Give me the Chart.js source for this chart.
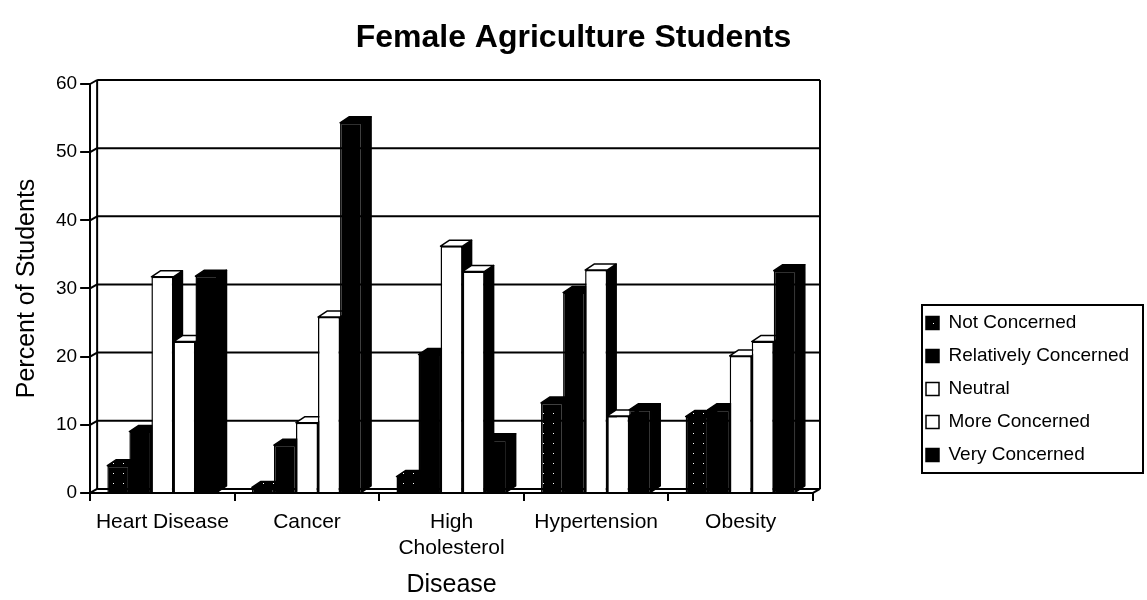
<!DOCTYPE html>
<html>
<head>
<meta charset="utf-8">
<title>Female Agriculture Students</title>
<script src="https://cdn.jsdelivr.net/npm/chart.js@4/dist/chart.umd.min.js"></script>
<style>
  html, body { margin: 0; padding: 0; background: #fff; }
  #wrap { width: 1147px; height: 600px; }
</style>
</head>
<body>
<div id="wrap"><canvas id="chart" width="1147" height="600"></canvas></div>
<script>
// Survey data: percent of students by level of concern for each disease
const categories = ['Heart Disease', 'Cancer', ['High', 'Cholesterol'], 'Hypertension', 'Obesity'];
const seriesNames = ['Not Concerned', 'Relatively Concerned', 'Neutral', 'More Concerned', 'Very Concerned'];
const notConcerned        = [4.0, 0.8, 2.4, 13.2, 11.2];
const relativelyConcerned = [9.0, 7.0, 20.3, 29.4, 12.2];
const neutral             = [31.7, 10.3, 36.2, 32.7, 20.1];
const moreConcerned       = [22.2, 25.8, 32.5, 11.3, 22.2];
const veryConcerned       = [31.8, 54.3, 7.8, 12.2, 32.6];
const yTicks = { min: 0, max: 60, step: 10 };

const FONT = "'Liberation Sans', Arial, Helvetica, sans-serif";
Chart.defaults.font.family = FONT;
Chart.defaults.color = '#000';

// black fill speckled with a few white dots for the first series
function dottedFill() {
  const c = document.createElement('canvas');
  c.width = 10; c.height = 10;
  const g = c.getContext('2d');
  g.fillStyle = '#000'; g.fillRect(0, 0, 10, 10);
  g.fillStyle = '#fff';
  g.fillRect(3, 3, 1, 1);
  return g.createPattern(c, 'repeat');
}
const dots = dottedFill();

const seriesValues = [notConcerned, relativelyConcerned, neutral, moreConcerned, veryConcerned];
const seriesFill = [dots, '#000', '#fff', '#fff', '#000'];

// depth offsets for the pseudo-3D look
const WALL = { dx: 7, dy: 4 };
const BAR = { dx: 9, dy: 6 };

const wallPlugin = {
  id: 'wall3d',
  beforeDatasetsDraw(chart) {
    const { ctx, chartArea: a } = chart;
    const ys = chart.scales.y;
    ctx.save();
    ctx.strokeStyle = '#000';
    ctx.lineWidth = 2;
    const line = (x1, y1, x2, y2) => { ctx.beginPath(); ctx.moveTo(x1, y1); ctx.lineTo(x2, y2); ctx.stroke(); };
    ys.ticks.forEach(t => {
      const y = ys.getPixelForValue(t.value);
      line(a.left, y, a.left + WALL.dx, y - WALL.dy);
      line(a.left + WALL.dx, y - WALL.dy, a.right + WALL.dx, y - WALL.dy);
    });
    const yTop = ys.getPixelForValue(yTicks.max), yBot = ys.getPixelForValue(yTicks.min);
    line(a.left + WALL.dx, yTop - WALL.dy, a.left + WALL.dx, yBot - WALL.dy);
    line(a.right + WALL.dx, yTop - WALL.dy, a.right + WALL.dx, yBot - WALL.dy);
    line(a.right, yBot, a.right + WALL.dx, yBot - WALL.dy);
    ctx.restore();
  },
  beforeDatasetDraw() {
    return false; // bars are drawn below, series by series, with their depth faces
  },
  afterDatasetsDraw(chart) {
    const ctx = chart.ctx;
    chart.data.datasets.forEach((ds, i) => {
      const meta = chart.getDatasetMeta(i);
      meta.data.forEach(bar => {
        bar.draw(ctx);
        const { x, y, base, width } = bar.getProps(['x', 'y', 'base', 'width'], true);
        const L = x - width / 2, R = x + width / 2;
        ctx.save();
        ctx.strokeStyle = '#000';
        ctx.lineWidth = 1.5;
        ctx.lineJoin = 'round';
        // side face
        ctx.beginPath();
        ctx.moveTo(R, y); ctx.lineTo(R + BAR.dx, y - BAR.dy);
        ctx.lineTo(R + BAR.dx, base - BAR.dy); ctx.lineTo(R, base);
        ctx.closePath();
        ctx.fillStyle = '#000';
        ctx.fill(); ctx.stroke();
        // top face
        ctx.beginPath();
        ctx.moveTo(L, y); ctx.lineTo(L + BAR.dx, y - BAR.dy);
        ctx.lineTo(R + BAR.dx, y - BAR.dy); ctx.lineTo(R, y);
        ctx.closePath();
        ctx.fillStyle = ds.backgroundColor;
        ctx.fill(); ctx.stroke();
        ctx.restore();
      });
    });
  }
};

const framePlugin = {
  id: 'legendFrame',
  afterLayout(chart) {
    // title centred across the whole canvas
    const tb = chart.titleBlock;
    if (tb) { tb.left = 0; tb.right = chart.width; tb.width = chart.width; }
    // legend placed to the right of the plot
    const lg = chart.legend;
    lg.left = 912; lg.right = 1143; lg.width = 231;
    lg.top = 299.5; lg.bottom = 600; lg.height = 300.5;
  },
  afterDraw(chart) {
    const lg = chart.legend;
    const hb = lg.legendHitBoxes;
    if (!hb || !hb.length) return;
    const first = hb[0], last = hb[hb.length - 1];
    const top = first.top - 8.5, bottom = last.top + last.height + 8.5;
    const left = first.left - 4, right = lg.right;
    const ctx = chart.ctx;
    ctx.save();
    ctx.strokeStyle = '#000';
    ctx.lineWidth = 2;
    ctx.strokeRect(left, top, right - left, bottom - top);
    ctx.restore();
  }
};

new Chart(document.getElementById('chart'), {
  type: 'bar',
  data: {
    labels: categories,
    datasets: seriesNames.map((name, i) => ({
      label: name,
      data: seriesValues[i],
      backgroundColor: seriesFill[i],
      borderColor: '#000',
      borderWidth: 1.5,
      categoryPercentage: 0.762,
      barPercentage: 1.0
    }))
  },
  options: {
    responsive: false,
    animation: false,
    devicePixelRatio: 1,
    layout: { padding: { left: 0, top: 0, bottom: 0, right: 134 } },
    plugins: {
      title: {
        display: true,
        text: 'Female Agriculture Students',
        color: '#000',
        font: { size: 32, weight: 'bold', family: FONT, lineHeight: 1.2 },
        padding: { top: 19, bottom: 26.6 }
      },
      legend: {
        display: true,
        position: 'right',
        align: 'start',
        maxWidth: 200,
        labels: {
          color: '#000',
          font: { size: 19, family: FONT },
          boxWidth: 13,
          boxHeight: 13,
          padding: 14
        }
      },
      tooltip: { enabled: false }
    },
    scales: {
      x: {
        grid: { drawOnChartArea: false, drawTicks: true, tickLength: 8, color: '#000', lineWidth: 2, offset: true },
        border: { color: '#000', width: 2 },
        ticks: {
          color: '#000',
          font: { size: 21, family: FONT, lineHeight: 1.24 },
          padding: 8,
          maxRotation: 0,
          autoSkip: false
        },
        title: {
          display: true,
          text: 'Disease',
          color: '#000',
          font: { size: 25, family: FONT, lineHeight: 1.2 },
          padding: { top: 1, bottom: 0 }
        }
      },
      y: {
        min: yTicks.min,
        max: yTicks.max,
        grid: { drawOnChartArea: false, drawTicks: true, tickLength: 10, color: '#000', lineWidth: 2 },
        border: { color: '#000', width: 2 },
        ticks: {
          stepSize: yTicks.step,
          color: '#000',
          font: { size: 19, family: FONT },
          padding: 3
        },
        title: {
          display: true,
          text: 'Percent of Students',
          color: '#000',
          font: { size: 25, family: FONT, lineHeight: 1.2 },
          padding: { top: 12, bottom: 11 }
        }
      }
    }
  },
  plugins: [wallPlugin, framePlugin]
});
</script>
</body>
</html>
